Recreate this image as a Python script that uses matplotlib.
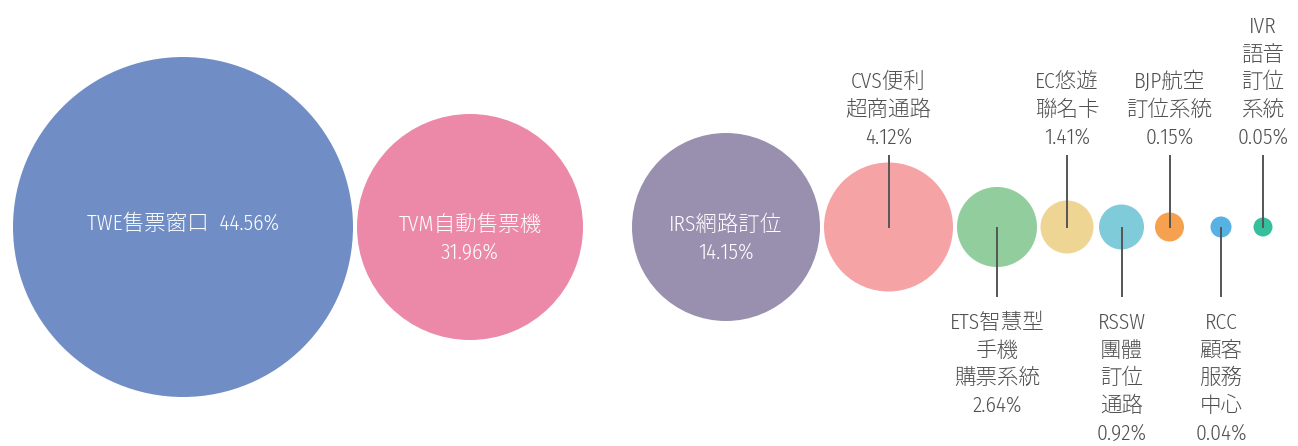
import matplotlib
matplotlib.use("Agg")
import matplotlib.pyplot as plt
from matplotlib.patches import Circle

# ---- data ----
codes = ["TWE", "TVM", "IRS", "CVS", "ETS", "EC", "RSSW", "BJP", "RCC", "IVR"]
names = ["售票窗口", "自動售票機", "網路訂位", "便利\n超商通路", "智慧型\n手機\n購票系統",
         "悠遊\n聯名卡", "\n團體\n訂位\n通路", "航空\n訂位系統", "\n顧客\n服務\n中心", "\n語音\n訂位\n系統"]
shares = [44.56, 31.96, 14.15, 4.12, 2.64, 1.41, 0.92, 0.15, 0.04, 0.05]

# ---- layout / style ----
diam = [340, 226, 188, 129, 80, 53, 45, 29, 21, 19]
cx = [183, 470, 726, 888.5, 997, 1067, 1121.5, 1169.5, 1221, 1263]
cy = 227
colors = ["#708ec5", "#ec89a9", "#998faf", "#f6a3a6", "#92cd9e", "#efd594",
          "#80cbd9", "#f6a14f", "#58b1e3", "#36bf9c"]
mode = ["in1", "in", "in", "up", "down", "up", "down", "up", "down", "up"]

plt.rcParams["font.family"] = ["Fira Sans Condensed", "Noto Sans CJK JP", "Noto Sans CJK TC", "DejaVu Sans"]
plt.rcParams["font.weight"] = 300

W, H = 1298, 446
fig = plt.figure(figsize=(W / 100, H / 100), dpi=100)
ax = fig.add_axes([0, 0, 1, 1])
ax.set_xlim(0, W)
ax.set_ylim(H, 0)
ax.set_aspect("equal")
ax.axis("off")

txtc = "#505050"
fs = 15.5
ls = 1.38
for i, code in enumerate(codes):
    r = diam[i] / 2
    ax.add_patch(Circle((cx[i], cy), r, facecolor=colors[i], edgecolor="none", zorder=1))
    pct = f"{shares[i]:.2f}%"
    nm = names[i]
    parts = nm.split("\n")
    lbl = (code + "\n" + "\n".join(parts[1:])) if parts[0] == "" else code + nm
    if mode[i] == "in1":
        ax.text(cx[i], cy - 3, f"{code}{nm}  {pct}", color="white", fontsize=fs,
                ha="center", va="center", zorder=3)
    elif mode[i] == "in":
        ax.text(cx[i], cy + 12, f"{lbl}\n{pct}", color="white", fontsize=fs,
                ha="center", va="center", linespacing=ls, zorder=3)
    elif mode[i] == "up":
        ax.text(cx[i], 148, f"{lbl}\n{pct}", color=txtc, fontsize=fs,
                ha="center", va="bottom", linespacing=ls, zorder=3)
        ax.plot([cx[i], cx[i]], [156, cy], color="#555555", lw=1.4, zorder=2)
    else:
        ax.text(cx[i], 312, f"{lbl}\n{pct}", color=txtc, fontsize=fs,
                ha="center", va="top", linespacing=ls, zorder=3)
        ax.plot([cx[i], cx[i]], [cy + 1, 296], color="#555555", lw=1.4, zorder=2)

fig.savefig("out.png", dpi=100, facecolor="white")
